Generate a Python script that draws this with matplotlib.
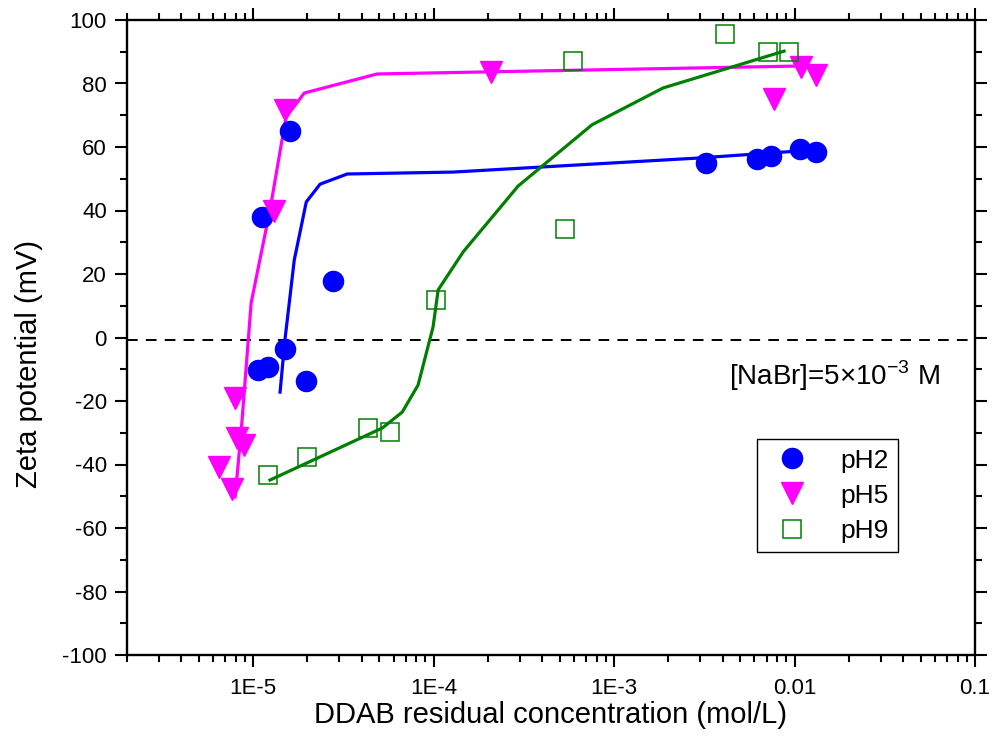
import matplotlib
matplotlib.use('Agg')
import matplotlib.pyplot as plt
from matplotlib.ticker import FixedLocator, MultipleLocator, LogLocator, NullFormatter

plt.rcParams['font.family'] = ['Liberation Sans', 'DejaVu Sans']
plt.rcParams['axes.unicode_minus'] = False

# measured points
ph2_x = [1.07e-5, 1.12e-5, 1.21e-5, 1.5e-5, 1.6e-5, 1.97e-5, 2.77e-5, 3.24e-3, 6.2e-3, 7.4e-3, 1.07e-2, 1.31e-2]
ph2_y = [-10.2, 38.0, -9.3, -3.6, 65.0, -13.7, 17.8, 55.0, 56.2, 57.2, 59.4, 58.4]

ph5_x = [6.5e-6, 7.65e-6, 7.95e-6, 8.15e-6, 8.9e-6, 1.31e-5, 1.5e-5, 2.08e-4, 7.7e-3, 1.09e-2, 1.31e-2]
ph5_y = [-40.8, -47.7, -19.0, -31.7, -33.9, 39.8, 71.5, 83.6, 75.1, 85.2, 82.7]

ph9_x = [1.21e-5, 1.99e-5, 4.34e-5, 5.74e-5, 1.03e-4, 5.35e-4, 5.9e-4, 4.12e-3, 7.1e-3, 9.3e-3]
ph9_y = [-43.3, -37.6, -28.5, -29.8, 11.9, 34.2, 87.0, 95.6, 89.9, 89.9]

# fitted curves
fit2_x = [1.41e-5, 1.5e-5, 1.69e-5, 1.97e-5, 2.35e-5, 3.32e-5, 1.28e-4, 2.88e-3, 1.3e-2]
fit2_y = [-17.2, -0.8, 24.4, 42.7, 48.3, 51.5, 52.1, 56.5, 59.1]

fit5_x = [7.95e-6, 8.6e-6, 9.75e-6, 1.24e-5, 1.52e-5, 1.78e-5, 1.92e-5, 4.86e-5, 1.3e-2]
fit5_y = [-50.2, -29.0, 10.9, 40.2, 69.4, 74.5, 77.0, 83.0, 85.6]

fit9_x = [1.24e-5, 5.2e-5, 6.7e-5, 8.2e-5, 9.93e-5, 1.06e-4, 1.46e-4, 2.94e-4, 7.55e-4, 1.87e-3, 8.75e-3]
fit9_y = [-44.9, -28.5, -23.5, -15.0, 3.3, 15.0, 27.0, 47.7, 67.0, 78.6, 90.2]

xticks = [1e-5, 1e-4, 1e-3, 1e-2, 1e-1]
xticklabels = ['1E-5', '1E-4', '1E-3', '0.01', '0.1']

fig = plt.figure(figsize=(9.92, 7.47), dpi=100)
ax = fig.add_axes([127/992, 1 - 655/747, 848/992, 635/747])

ax.axhline(-0.7, color='black', lw=1.4, ls=(0, (5.5, 4.2)), zorder=1)

ax.plot(fit2_x, fit2_y, color='#0000ff', lw=2.3, zorder=2)
ax.plot(fit5_x, fit5_y, color='#ff00ff', lw=2.3, zorder=2)
ax.plot(fit9_x, fit9_y, color='#008000', lw=2.3, zorder=2)

ax.plot(ph2_x, ph2_y, 'o', color='#0000ff', ms=14.5, mec='#0000ff', label='pH2', zorder=3)
ax.plot(ph5_x, ph5_y, 'v', color='#ff00ff', ms=15.5, mec='#ff00ff', label='pH5', zorder=3)
ax.plot(ph9_x, ph9_y, 's', mfc='none', mec='#008000', ms=12.5, mew=1.1, label='pH9', zorder=3)

ax.set_xscale('log')
ax.set_xlim(2e-6, 0.1)
ax.set_ylim(-100, 100)

ax.xaxis.set_major_locator(FixedLocator(xticks))
ax.set_xticklabels(xticklabels)
ax.xaxis.set_minor_locator(LogLocator(base=10, subs=range(2, 10), numticks=20))
ax.xaxis.set_minor_formatter(NullFormatter())
ax.yaxis.set_major_locator(MultipleLocator(20))
ax.yaxis.set_minor_locator(MultipleLocator(10))

for s in ax.spines.values():
    s.set_linewidth(1.7)
ax.tick_params(which='both', direction='out', top=True, right=True, width=1.5)
ax.tick_params(which='major', length=8.5, labelsize=16)
ax.tick_params(which='minor', length=5)
ax.tick_params(axis='x', which='major', pad=8)
ax.tick_params(axis='y', which='major', pad=6)

ax.set_xlabel('DDAB residual concentration (mol/L)', fontsize=21)
ax.set_ylabel('Zeta potential (mV)', fontsize=21)
ax.xaxis.set_label_coords(0.5, -0.072)
ax.yaxis.set_label_coords(-0.099, 0.458)

ax.text(0.959, 0.44, '[NaBr]=5×10$^{\\mathregular{-3}}$ M', transform=ax.transAxes,
        fontsize=20, ha='right', va='center')

leg = ax.legend(loc='upper right', bbox_to_anchor=(0.909, 0.340), borderaxespad=0,
                fontsize=19, fancybox=False, edgecolor='black', framealpha=1,
                handlelength=2.0, handletextpad=0.8, labelspacing=0.42, borderpad=0.36)
leg.get_frame().set_linewidth(1.0)

fig.savefig('out.png', dpi=100)
